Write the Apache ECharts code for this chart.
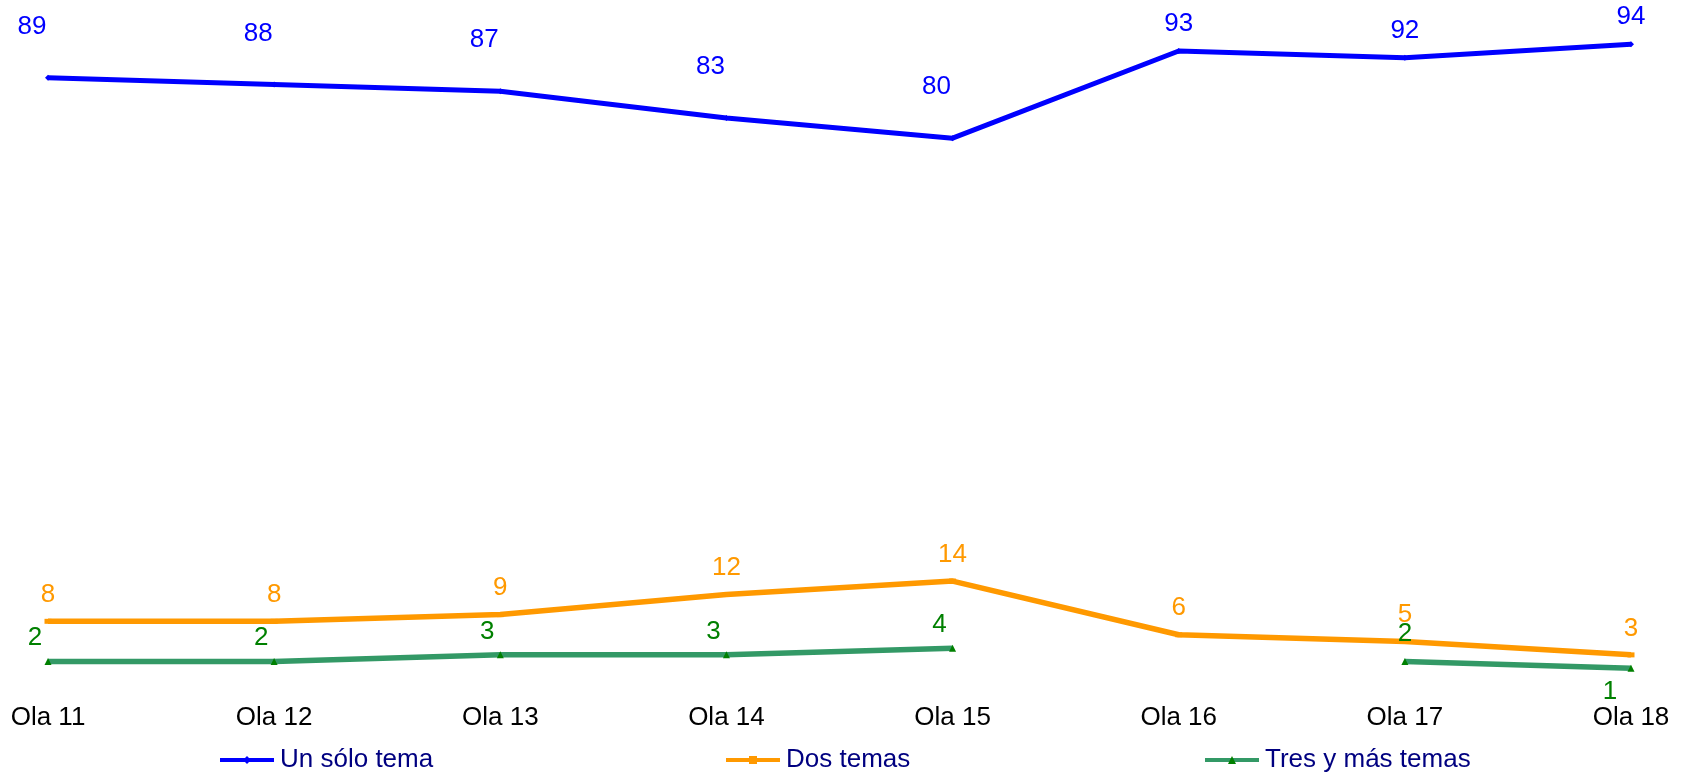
<!DOCTYPE html>
<html>
<head>
<meta charset="utf-8">
<script src="https://cdn.jsdelivr.net/npm/echarts@6/dist/echarts.min.js"></script>
<style>
html,body{margin:0;padding:0;background:#fff;}
#chart{width:1688px;height:775px;}
</style>
</head>
<body>
<div id="chart"></div>
<script>
const categories = ['Ola 11','Ola 12','Ola 13','Ola 14','Ola 15','Ola 16','Ola 17','Ola 18'];
const unSoloTema = [89, 88, 87, 83, 80, 93, 92, 94];
const dosTemas = [8, 8, 9, 12, 14, 6, 5, 3];
const tresYMasTemas = [2, 2, 3, 3, 4, null, 2, 1];
const seriesNames = ['Un sólo tema', 'Dos temas', 'Tres y más temas'];

const FONT = 'Liberation Sans, Arial, sans-serif';
const FS = 26;

function withLabels(values, labelFor) {
  return values.map((v, i) => {
    if (v === null) return null;
    const lab = labelFor(i);
    return lab ? { value: v, label: lab } : v;
  });
}

function legendAt(name, left) {
  return {
    data: [name], left: left, top: 747, padding: 0,
    itemWidth: 54, itemHeight: 10, itemGap: 0,
    lineStyle: { width: 4 },
    textStyle: { color: '#000080', fontFamily: FONT, fontSize: FS, padding: [0, 0, 0, 1] }
  };
}

const chart = echarts.init(document.getElementById('chart'));
chart.setOption({
  animation: false,
  backgroundColor: '#ffffff',
  grid: { left: 48, right: 57, top: 4, bottom: 100, containLabel: false },
  xAxis: {
    type: 'category',
    data: categories,
    boundaryGap: false,
    axisLine: { show: false },
    axisTick: { show: false },
    splitLine: { show: false },
    axisLabel: { color: '#000000', fontFamily: FONT, fontSize: FS, margin: 30 }
  },
  yAxis: {
    type: 'value', min: 0, max: 100,
    show: false
  },
  legend: [
    legendAt(seriesNames[0], 218),
    legendAt(seriesNames[1], 724),
    legendAt(seriesNames[2], 1203)
  ],
  series: [
    {
      name: seriesNames[0], type: 'line',
      data: withLabels(unSoloTema, i => i < 5 ? { offset: [-16, -24] } : null),
      lineStyle: { color: '#0000FF', width: 5 },
      itemStyle: { color: '#0000FF' },
      symbol: 'diamond', symbolSize: 6, showSymbol: true,
      label: { show: true, position: 'top', distance: 11, color: '#0000FF', fontFamily: FONT, fontSize: FS }
    },
    {
      name: seriesNames[1], type: 'line',
      data: dosTemas,
      lineStyle: { color: '#FF9900', width: 5.5 },
      itemStyle: { color: '#FF9900' },
      symbol: 'rect', symbolSize: [7, 5],
      label: { show: true, position: 'top', distance: 11, color: '#FF9900', fontFamily: FONT, fontSize: FS }
    },
    {
      name: seriesNames[2], type: 'line',
      data: withLabels(tresYMasTemas, i => i < 5 ? { offset: [-13, 4] } : (i === 7 ? { position: 'bottom', distance: 7, offset: [-21, 0] } : null)),
      connectNulls: false,
      lineStyle: { color: '#339966', width: 5.5 },
      itemStyle: { color: '#008000' },
      symbol: 'triangle', symbolSize: 7,
      label: { show: true, position: 'top', distance: 11, color: '#008000', fontFamily: FONT, fontSize: FS }
    }
  ]
});
</script>
</body>
</html>
